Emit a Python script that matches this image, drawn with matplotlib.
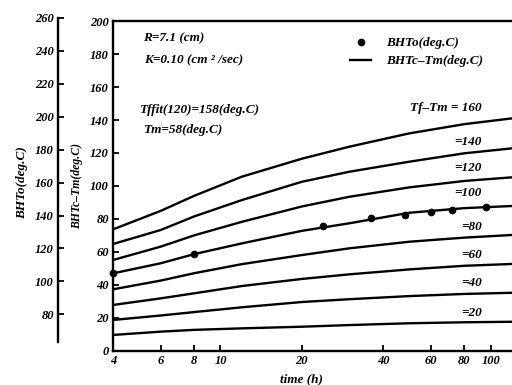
import matplotlib
matplotlib.use('Agg')
import matplotlib.pyplot as plt
from matplotlib.ticker import FixedLocator, NullLocator, FixedFormatter
from matplotlib.lines import Line2D

plt.rcParams['font.family'] = ['Liberation Serif', 'DejaVu Serif']
plt.rcParams['font.weight'] = 'bold'
plt.rcParams['font.style'] = 'italic'

# ---- data ----
Tm = 58
t_curve = [4, 6, 8, 12, 20, 30, 50, 80, 120]
curve_labels = [160, 140, 120, 100, 80, 60, 40, 20]
curve_values = {
    160: [73.6, 84.8, 94.0, 105.6, 116.5, 123.8, 131.9, 137.5, 141.0],
    140: [64.7, 73.2, 81.5, 91.4, 102.5, 108.6, 114.7, 119.8, 122.8],
    120: [55.0, 63.1, 70.0, 78.2, 87.5, 93.4, 99.1, 103.0, 105.2],
    100: [46.9, 53.0, 58.6, 65.1, 72.7, 77.3, 83.7, 86.5, 87.8],
    80:  [37.2, 42.5, 47.0, 52.5, 58.0, 62.1, 66.1, 68.6, 70.2],
    60:  [27.7, 31.7, 34.8, 39.2, 43.5, 46.3, 49.3, 51.5, 52.6],
    40:  [18.6, 21.3, 23.4, 26.3, 29.5, 31.2, 33.1, 34.4, 35.1],
    20:  [9.5, 11.5, 12.6, 13.5, 14.5, 15.5, 16.6, 17.2, 17.5],
}
t_obs = [4, 8, 24, 36, 48, 60, 72, 96]
bhto_obs = [105.0, 116.6, 133.6, 138.3, 140.3, 142.3, 143.3, 145.0]

x_ticks = [4, 6, 8, 10, 20, 40, 60, 80, 100]
x_ticklabels = ['4', '6', '8', '10', '20', '40', '60', '80', '100']
y_inner_ticks = [0, 20, 40, 60, 80, 100, 120, 140, 160, 180, 200]
y_outer_ticks = [80, 100, 120, 140, 160, 180, 200, 220, 240, 260]

# ---- figure ----
W, H = 512, 385
fig = plt.figure(figsize=(W / 100, H / 100), dpi=100)

def fx(px):
    return px / W

def fy(py):
    return 1 - py / H

y0, y1 = 350.6, 21.2
ax = fig.add_axes([fx(113), fy(y0), fx(512) - fx(113), (y0 - y1) / H])
ax.set_xscale('log')
ax.set_xlim(4, 120)
ax.set_ylim(0, 200)

for k in curve_labels:
    ax.plot(t_curve, curve_values[k], color='black', lw=1.7, solid_joinstyle='round')
ax.plot(t_obs, [b - Tm for b in bhto_obs], 'o', color='black', ms=4.5,
        clip_on=False, zorder=5)

tfs = 9
ax.xaxis.set_major_locator(FixedLocator(x_ticks))
ax.xaxis.set_major_formatter(FixedFormatter(x_ticklabels))
ax.xaxis.set_minor_locator(NullLocator())
ax.set_yticks(y_inner_ticks)
ax.tick_params(direction='in', length=4, width=1.3, labelsize=tfs, pad=3)
for s in ['left', 'bottom', 'top']:
    ax.spines[s].set_linewidth(1.7)
ax.spines['right'].set_visible(False)

# outer axis (BHTo)
ax2 = fig.add_axes([fx(58), fy(y0), 0.01, (y0 - y1) / H * 202 / 200])
ax2.set_ylim(58, 260)
ax2.patch.set_visible(False)
for s in ['right', 'top', 'bottom']:
    ax2.spines[s].set_visible(False)
ax2.spines['left'].set_bounds(63.5, 260)
ax2.spines['left'].set_linewidth(1.7)
ax2.set_xticks([])
ax2.set_yticks(y_outer_ticks)
ax2.tick_params(direction='in', length=4, width=1.3, labelsize=tfs, pad=3)

# axis labels
fig.text(fx(22), fy(183), 'BHTo(deg.C)', rotation=90, ha='center', va='center', fontsize=9.5)
fig.text(fx(77), fy(186), 'BHTc–Tm(deg.C)', rotation=90, ha='center', va='center', fontsize=8.5)
fig.text(fx(301), fy(379), 'time (h)', ha='center', va='center', fontsize=9.5)

# annotations
fs = 9.5
fig.text(fx(143), fy(38), 'R=7.1 (cm)', ha='left', va='center', fontsize=fs)
fig.text(fx(144), fy(60), 'K=0.10 (cm ² /sec)', ha='left', va='center', fontsize=fs)
fig.text(fx(139), fy(110), 'Tffit(120)=158(deg.C)', ha='left', va='center', fontsize=fs)
fig.text(fx(143), fy(130), 'Tm=58(deg.C)', ha='left', va='center', fontsize=fs)

label_y = {160: 108, 140: 142, 120: 168, 100: 193, 80: 227, 60: 255, 40: 283, 20: 313}
for k in curve_labels:
    s = 'Tf–Tm = 160' if k == 160 else '=%d' % k
    fig.text(fx(482), fy(label_y[k]), s, ha='right', va='center', fontsize=fs)

# legend
h1 = Line2D([], [], marker='o', ls='none', color='black', ms=4.5)
h2 = Line2D([], [], color='black', lw=1.7)
fig.legend([h1, h2], ['BHTo(deg.C)', 'BHTc–Tm(deg.C)'], loc='upper left',
           bbox_to_anchor=(fx(350), fy(37)), frameon=False, fontsize=fs,
           handlelength=1.6, handletextpad=1.1, labelspacing=0.45,
           borderpad=0, borderaxespad=0)

fig.savefig('out.png', dpi=100)
